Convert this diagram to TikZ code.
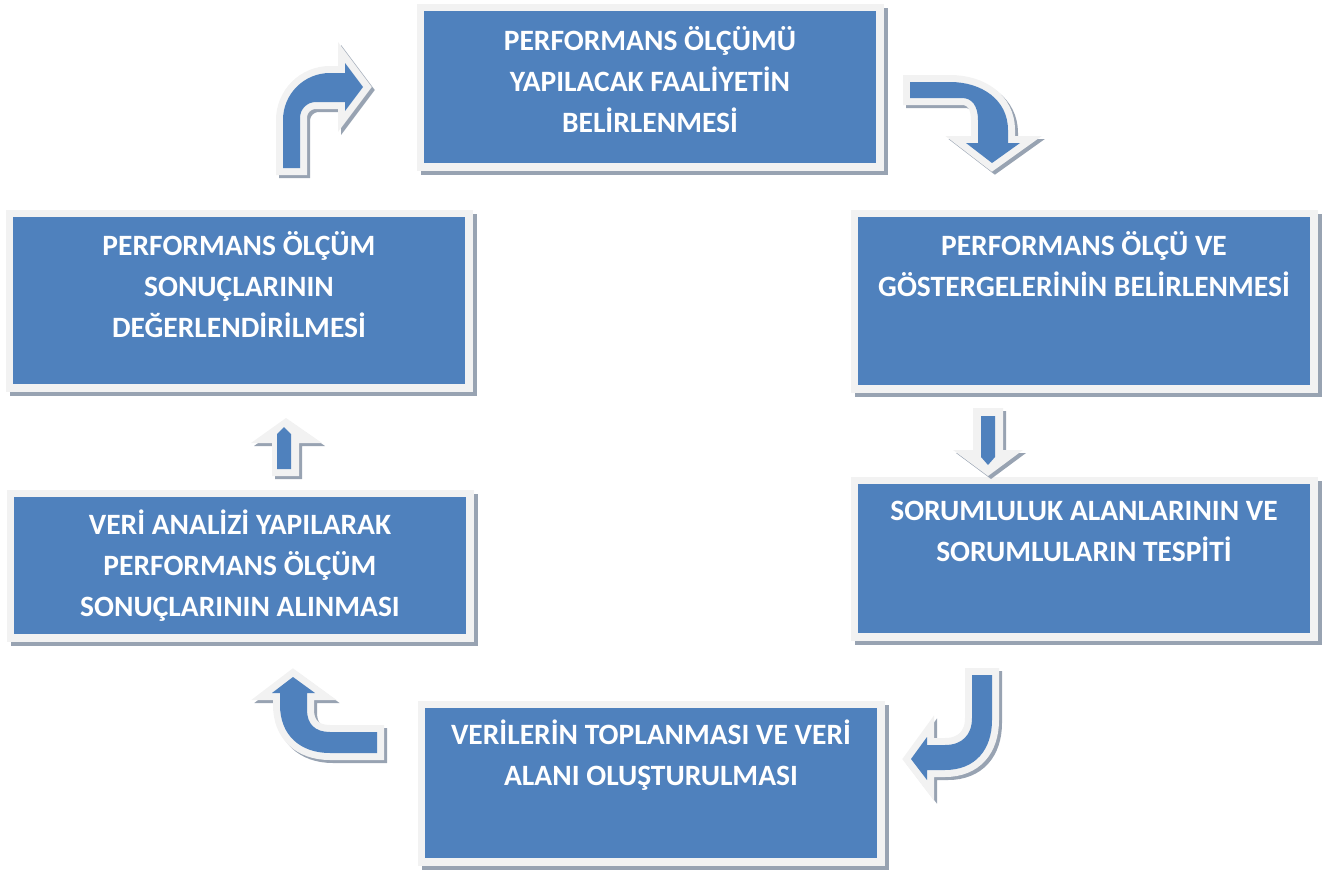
\documentclass[tikz,border=0pt]{standalone}
\usepackage{fontspec}
\setmainfont{Carlito}
\usetikzlibrary{calc}
\definecolor{boxblue}{RGB}{79,129,189}
\definecolor{framegray}{RGB}{242,242,242}
\definecolor{shadegray}{RGB}{152,163,178}
\tikzset{
  stepbox/.style={rectangle, inner sep=0pt, fill=boxblue,
    preaction={draw=shadegray, fill=shadegray, line width=15pt,
      transform canvas={shift={(4pt,-4pt)}}},
    preaction={draw=framegray, line width=15pt}},
  % anchored at the baseline of the last line
  boxtext/.style={text=white, font=\fontsize{29.5}{41}\selectfont\bfseries,
    align=center, anchor=base, inner sep=0pt},
  bentarrow/.style={fill=boxblue, line join=miter, miter limit=12,
    preaction={draw=shadegray, fill=shadegray, line width=14pt, line join=miter,
      miter limit=12, transform canvas={shift={(3pt,-3pt)}}},
    preaction={draw=framegray, line width=14pt, line join=miter, miter limit=12}},
  arrowframe/.style={fill=framegray,
    preaction={fill=shadegray, transform canvas={shift={(3pt,-3pt)}}}},
  arrowcore/.style={fill=boxblue},
}
\begin{document}
\begin{tikzpicture}[x=1pt, y=-1pt]
\useasboundingbox (0,0) rectangle (1336,870);

% process steps
\node[stepbox, minimum width=452pt, minimum height=152pt] (b1) at (650,87) {};
\node[stepbox, minimum width=452pt, minimum height=168pt] (b2) at (1084,301) {};
\node[stepbox, minimum width=452pt, minimum height=149pt] (b3) at (1084,558.5) {};
\node[stepbox, minimum width=452pt, minimum height=150pt] (b4) at (651,783) {};
\node[stepbox, minimum width=452pt, minimum height=137pt] (b5) at (240,565.5) {};
\node[stepbox, minimum width=452pt, minimum height=167pt] (b6) at (239,300.5) {};

\node[boxtext] (t1) at ($(b1.north)+(0,122)$) {PERFORMANS ÖLÇÜMÜ\\YAPILACAK FAALİYETİN\\BELİRLENMESİ};
\node[boxtext] (t2) at ($(b2.north)+(0,80)$) {PERFORMANS ÖLÇÜ VE\\GÖSTERGELERİNİN BELİRLENMESİ};
\node[boxtext] (t3) at ($(b3.north)+(0,78)$) {SORUMLULUK ALANLARININ VE\\SORUMLULARIN TESPİTİ};
\node[boxtext] (t4) at ($(b4.north)+(0,78)$) {VERİLERİN TOPLANMASI VE VERİ\\ALANI OLUŞTURULMASI};
\node[boxtext] (t5) at ($(b5.north)+(0,120)$) {VERİ ANALİZİ YAPILARAK\\PERFORMANS ÖLÇÜM\\SONUÇLARININ ALINMASI};
\node[boxtext] (t6) at ($(b6.north)+(0,121)$) {PERFORMANS ÖLÇÜM\\SONUÇLARININ\\DEĞERLENDİRİLMESİ};

% bent arrow: left column up into the first step
\path[bentarrow] (283,168) -- (283,120) .. controls (283,94) and (304,73) .. (330,73)
  -- (345,73) -- (345,63) -- (363,87) -- (345,111) -- (345,102) -- (316,102)
  .. controls (307,102) and (300,109) .. (300,118) -- (300,168) -- cycle;

% bent arrow: first step down to the right column
\path[bentarrow] (910,82) -- (950,82) .. controls (982,82) and (1008,100) .. (1008,130)
  -- (1008,143) -- (1020,143) -- (992,163) -- (966,143) -- (978,143) -- (978,120)
  .. controls (978,106) and (972,98) .. (962,98) -- (910,98) -- cycle;

% straight arrow down the right column
\path[arrowframe] (973,408) -- (1003,408) -- (1003,450) -- (1023,450) -- (988,476)
  -- (953,450) -- (973,450) -- cycle;
\path[arrowcore] (981,416) -- (995,416) -- (995,457) -- (988,465) -- (981,457) -- cycle;

% J-shaped arrow into the bottom step
\path[bentarrow] (972,675) -- (992,675) -- (992,720) .. controls (992,750) and (975,770) .. (945,770)
  -- (927,770) -- (927,780) -- (911,759) -- (927,737) -- (927,745) -- (945,745)
  .. controls (962,745) and (972,735) .. (972,718) -- cycle;

% bent arrow from the bottom step up the left column
\path[bentarrow] (377,732) -- (377,753) -- (330,753) .. controls (300,753) and (280,735) .. (280,705)
  -- (280,693) -- (272,693) -- (293,677) -- (315,693) -- (307,693) -- (307,710)
  .. controls (307,724) and (315,732) .. (330,732) -- cycle;

% straight arrow up the left column
\path[arrowframe] (286,418) -- (322,443) -- (299,443) -- (299,476) -- (272,476)
  -- (272,443) -- (251,443) -- cycle;
\path[arrowcore] (284,427) -- (291,434) -- (291,469) -- (277,469) -- (277,434) -- cycle;
\end{tikzpicture}
\end{document}
